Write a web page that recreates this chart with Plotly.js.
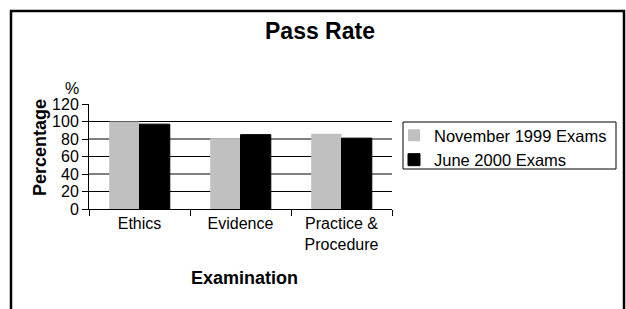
<!DOCTYPE html>
<html><head><meta charset="utf-8">
<script src="https://cdn.plot.ly/plotly-3.0.1.min.js"></script>
<style>html,body{margin:0;padding:0;background:#fff;}#chart{width:626px;height:309px;}</style>
</head><body><div id="chart"></div>
<script>
const categories = ['Ethics', 'Evidence', 'Practice &<br>Procedure'];
const nov1999 = [100, 81, 86];
const jun2000 = [97, 85, 81];
const seriesNames = ['November 1999 Exams', 'June 2000 Exams'];
const yTicks = [0, 20, 40, 60, 80, 100, 120];
const gridValues = [20, 40, 60, 80, 100];

const W = 626, H = 309;
const L = 89, R = 234, T = 104, B = 100;
const pw = W - L - R, ph = H - T - B;
const px = v => (v - L) / pw;
const py = v => (H - B - v) / ph;

const FONT = 'Liberation Sans, Arial, Helvetica, sans-serif';

const traces = [
  {type: 'bar', name: seriesNames[0], x: categories, y: nov1999,
   marker: {color: '#c0c0c0', line: {width: 0}}},
  {type: 'bar', name: seriesNames[1], x: categories, y: jun2000,
   marker: {color: '#000000', line: {color: '#000000', width: 1}}}
];

const shapes = gridValues.map(v => ({
  type: 'line', xref: 'paper', yref: 'y', x0: 0, x1: 1, y0: v, y1: v,
  line: {color: '#000', width: 1}, layer: 'below'
}));
// legend frame
shapes.push({type: 'rect', xref: 'paper', yref: 'paper',
  x0: px(403), x1: px(616), y0: py(169), y1: py(122),
  line: {color: '#000', width: 1}});
// outer frame (open at the bottom)
shapes.push({type: 'path', xref: 'paper', yref: 'paper',
  path: `M ${px(11)} ${py(330)} L ${px(11)} ${py(11)} L ${px(624)} ${py(11)} L ${px(624)} ${py(330)}`,
  line: {color: '#000', width: 2.5}});

const layout = {
  width: W, height: H,
  margin: {l: L, r: R, t: T, b: B, pad: 0},
  paper_bgcolor: '#fff', plot_bgcolor: '#fff',
  font: {family: FONT, color: '#000', size: 16},
  barmode: 'group', bargap: 0.4, bargroupgap: 0,
  showlegend: true,
  title: {text: '<b>Pass Rate</b>', font: {family: FONT, size: 23, color: '#000'},
          x: 320 / W, xanchor: 'center', y: 1 - 31 / H, yanchor: 'middle'},
  xaxis: {type: 'category', range: [-0.5, 2.5], showline: true, linecolor: '#000', linewidth: 1,
          ticks: 'outside', ticklen: 6, tickcolor: '#000', tickson: 'boundaries',
          showgrid: false, zeroline: false, tickfont: {size: 16}, fixedrange: true},
  yaxis: {range: [0, 120], tickvals: yTicks, ticktext: yTicks.map(String),
          showline: true, linecolor: '#000', linewidth: 1,
          ticks: 'outside', ticklen: 6, tickcolor: '#000',
          showgrid: false, zeroline: false, tickfont: {size: 16}, fixedrange: true},
  legend: {x: px(394), xanchor: 'left', y: py(118), yanchor: 'top',
           bgcolor: 'rgba(0,0,0,0)', borderwidth: 0,
           font: {family: FONT, size: 16.5, color: '#000'}, tracegroupgap: 0},
  annotations: [
    {text: '%', xref: 'paper', yref: 'paper', x: px(71.5), y: py(88),
     xanchor: 'center', yanchor: 'middle', showarrow: false, font: {size: 16}},
    {text: '<b>Percentage</b>', xref: 'paper', yref: 'paper', x: px(39.5), y: py(147.5),
     xanchor: 'center', yanchor: 'middle', textangle: -90, showarrow: false, font: {size: 18}},
    {text: '<b>Examination</b>', xref: 'paper', yref: 'paper', x: px(244.5), y: py(278),
     xanchor: 'center', yanchor: 'middle', showarrow: false, font: {size: 18}}
  ],
  shapes: shapes
};

Plotly.newPlot('chart', traces, layout, {displayModeBar: false, staticPlot: true});
</script></body></html>
